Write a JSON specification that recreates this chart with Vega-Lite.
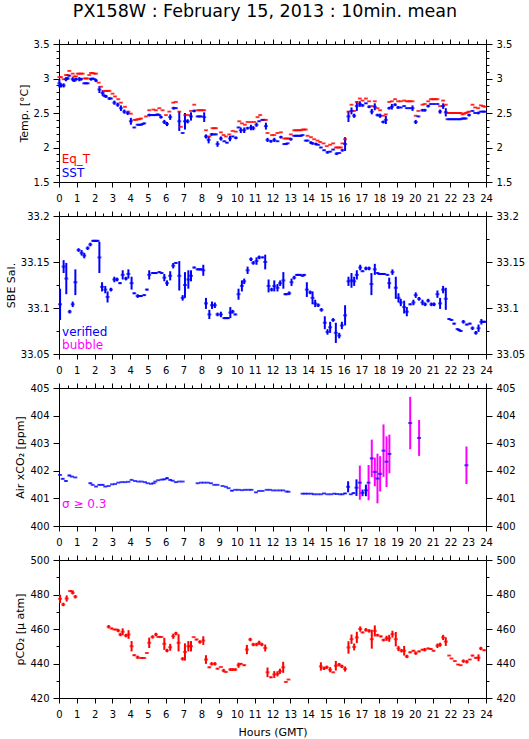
{
"$schema": "https://vega.github.io/schema/vega-lite/v6.json",
"padding": {"left": 5, "top": 3, "right": 5, "bottom": 5},
"title": {"text": "PX158W : February 15, 2013 : 10min. mean", "fontSize": 17.5, "font": "DejaVu Sans", "fontWeight": "normal", "anchor": "middle", "offset": 18, "color": "#000"},
"config": {"font": "DejaVu Sans", "view": {"stroke": null},
 "axis": {"grid": false, "domainColor": "#000", "tickColor": "#000", "labelColor": "#000", "titleColor": "#000", "labelFont": "DejaVu Sans", "titleFont": "DejaVu Sans", "labelFontSize": 10, "titleFontSize": 11, "titleFontWeight": "normal", "domainWidth": 1, "tickWidth": 1, "labelOverlap": false, "labelFlush": false, "labelBound": false},
 "tick": {"thickness": 2},
 "text": {"font": "DejaVu Sans", "fontSize": 12}},
"datasets": {
 "eq": [
  {"t":0.02,"v":3.02,"e":0.005},{"t":0.11,"v":3.02,"e":0.005},{"t":0.26,"v":2.99,"e":0.005},{"t":0.39,"v":3.05,"e":0.005},{"t":0.49,"v":3.05,"e":0.005},{"t":0.58,"v":3.11,"e":0.005},{"t":0.77,"v":3.07,"e":0.005},{"t":0.86,"v":3.03,"e":0.005},{"t":0.96,"v":3.03,"e":0.005},{"t":1.05,"v":3.07,"e":0.005},{"t":1.14,"v":3.07,"e":0.005},{"t":1.24,"v":3.07,"e":0.005},{"t":1.33,"v":3.07,"e":0.005},{"t":1.42,"v":3.0,"e":0.005},{"t":1.52,"v":3.0,"e":0.005},{"t":1.61,"v":3.0,"e":0.005},{"t":1.7,"v":3.05,"e":0.005},{"t":1.8,"v":3.08,"e":0.005},{"t":1.89,"v":3.08,"e":0.005},{"t":1.99,"v":3.07,"e":0.005},{"t":2.08,"v":3.07,"e":0.005},{"t":2.23,"v":2.94,"e":0.005},{"t":2.36,"v":2.88,"e":0.005},{"t":2.55,"v":2.82,"e":0.005},{"t":2.64,"v":2.82,"e":0.005},{"t":2.74,"v":2.82,"e":0.005},{"t":2.83,"v":2.82,"e":0.005},{"t":3.01,"v":2.78,"e":0.005},{"t":3.15,"v":2.74,"e":0.005},{"t":3.33,"v":2.7,"e":0.005},{"t":3.48,"v":2.65,"e":0.005},{"t":3.71,"v":2.59,"e":0.005},{"t":3.9,"v":2.52,"e":0.005},{"t":4.04,"v":2.49,"e":0.005},{"t":4.23,"v":2.4,"e":0.005},{"t":4.33,"v":2.4,"e":0.005},{"t":4.42,"v":2.41,"e":0.005},{"t":4.52,"v":2.41,"e":0.005},{"t":4.61,"v":2.42,"e":0.005},{"t":4.89,"v":2.45,"e":0.005},{"t":5.07,"v":2.54,"e":0.005},{"t":5.3,"v":2.55,"e":0.005},{"t":5.45,"v":2.54,"e":0.005},{"t":5.64,"v":2.57,"e":0.005},{"t":5.82,"v":2.54,"e":0.005},{"t":6.01,"v":2.47,"e":0.005},{"t":6.2,"v":2.52,"e":0.005},{"t":6.42,"v":2.65,"e":0.005},{"t":6.57,"v":2.66,"e":0.005},{"t":6.76,"v":2.52,"e":0.005},{"t":6.85,"v":2.3,"e":0.005},{"t":7.1,"v":2.47,"e":0.005},{"t":7.27,"v":2.47,"e":0.005},{"t":7.42,"v":2.53,"e":0.005},{"t":7.6,"v":2.62,"e":0.005},{"t":7.79,"v":2.54,"e":0.005},{"t":7.89,"v":2.54,"e":0.005},{"t":7.98,"v":2.54,"e":0.005},{"t":8.07,"v":2.54,"e":0.005},{"t":8.16,"v":2.54,"e":0.005},{"t":8.26,"v":2.25,"e":0.005},{"t":8.45,"v":2.16,"e":0.005},{"t":8.63,"v":2.28,"e":0.005},{"t":8.73,"v":2.28,"e":0.005},{"t":8.82,"v":2.28,"e":0.005},{"t":9.1,"v":2.22,"e":0.005},{"t":9.25,"v":2.18,"e":0.005},{"t":9.38,"v":2.16,"e":0.005},{"t":9.57,"v":2.19,"e":0.005},{"t":9.76,"v":2.24,"e":0.005},{"t":9.94,"v":2.23,"e":0.005},{"t":10.13,"v":2.38,"e":0.005},{"t":10.28,"v":2.35,"e":0.005},{"t":10.45,"v":2.33,"e":0.005},{"t":10.6,"v":2.37,"e":0.005},{"t":10.79,"v":2.37,"e":0.005},{"t":10.97,"v":2.37,"e":0.005},{"t":11.16,"v":2.44,"e":0.005},{"t":11.31,"v":2.47,"e":0.005},{"t":11.44,"v":2.4,"e":0.005},{"t":11.54,"v":2.4,"e":0.005},{"t":11.63,"v":2.4,"e":0.005},{"t":11.72,"v":2.21,"e":0.005},{"t":11.97,"v":2.18,"e":0.005},{"t":12.1,"v":2.18,"e":0.005},{"t":12.28,"v":2.21,"e":0.005},{"t":12.47,"v":2.22,"e":0.005},{"t":12.66,"v":2.13,"e":0.005},{"t":12.76,"v":2.13,"e":0.005},{"t":12.85,"v":2.13,"e":0.005},{"t":12.94,"v":2.13,"e":0.005},{"t":13.03,"v":2.19,"e":0.005},{"t":13.22,"v":2.25,"e":0.005},{"t":13.32,"v":2.25,"e":0.005},{"t":13.41,"v":2.25,"e":0.005},{"t":13.5,"v":2.25,"e":0.005},{"t":13.6,"v":2.25,"e":0.005},{"t":13.69,"v":2.26,"e":0.005},{"t":13.78,"v":2.26,"e":0.005},{"t":13.87,"v":2.26,"e":0.005},{"t":13.97,"v":2.17,"e":0.005},{"t":14.16,"v":2.15,"e":0.005},{"t":14.34,"v":2.12,"e":0.005},{"t":14.53,"v":2.1,"e":0.005},{"t":14.68,"v":2.08,"e":0.005},{"t":14.87,"v":2.06,"e":0.005},{"t":15.05,"v":2.02,"e":0.005},{"t":15.24,"v":2.04,"e":0.005},{"t":15.41,"v":2.06,"e":0.005},{"t":15.56,"v":2.0,"e":0.005},{"t":15.65,"v":2.0,"e":0.005},{"t":15.75,"v":2.0,"e":0.005},{"t":15.84,"v":2.0,"e":0.005},{"t":15.93,"v":2.06,"e":0.005},{"t":16.08,"v":2.12,"e":0.005},{"t":16.27,"v":2.52,"e":0.005},{"t":16.44,"v":2.62,"e":0.005},{"t":16.59,"v":2.53,"e":0.005},{"t":16.74,"v":2.66,"e":0.005},{"t":16.91,"v":2.71,"e":0.005},{"t":17.06,"v":2.68,"e":0.005},{"t":17.25,"v":2.71,"e":0.005},{"t":17.43,"v":2.67,"e":0.005},{"t":17.58,"v":2.6,"e":0.005},{"t":17.75,"v":2.67,"e":0.005},{"t":17.9,"v":2.57,"e":0.005},{"t":18.05,"v":2.54,"e":0.005},{"t":18.22,"v":2.46,"e":0.005},{"t":18.37,"v":2.48,"e":0.005},{"t":18.56,"v":2.66,"e":0.005},{"t":18.71,"v":2.67,"e":0.005},{"t":18.89,"v":2.7,"e":0.005},{"t":19.06,"v":2.67,"e":0.005},{"t":19.21,"v":2.67,"e":0.005},{"t":19.4,"v":2.68,"e":0.005},{"t":19.55,"v":2.67,"e":0.005},{"t":19.65,"v":2.67,"e":0.005},{"t":19.74,"v":2.67,"e":0.005},{"t":19.87,"v":2.67,"e":0.005},{"t":20.05,"v":2.46,"e":0.005},{"t":20.2,"v":2.53,"e":0.005},{"t":20.43,"v":2.62,"e":0.005},{"t":20.56,"v":2.63,"e":0.005},{"t":20.75,"v":2.67,"e":0.005},{"t":20.9,"v":2.7,"e":0.005},{"t":21.0,"v":2.7,"e":0.005},{"t":21.08,"v":2.7,"e":0.005},{"t":21.17,"v":2.7,"e":0.005},{"t":21.27,"v":2.7,"e":0.005},{"t":21.42,"v":2.6,"e":0.005},{"t":21.59,"v":2.68,"e":0.005},{"t":21.74,"v":2.62,"e":0.005},{"t":21.84,"v":2.5,"e":0.005},{"t":21.93,"v":2.5,"e":0.005},{"t":22.02,"v":2.5,"e":0.005},{"t":22.11,"v":2.5,"e":0.005},{"t":22.21,"v":2.5,"e":0.005},{"t":22.3,"v":2.5,"e":0.005},{"t":22.4,"v":2.5,"e":0.005},{"t":22.49,"v":2.5,"e":0.005},{"t":22.58,"v":2.5,"e":0.005},{"t":22.68,"v":2.48,"e":0.005},{"t":22.77,"v":2.49,"e":0.005},{"t":22.86,"v":2.5,"e":0.005},{"t":22.96,"v":2.51,"e":0.005},{"t":23.05,"v":2.52,"e":0.005},{"t":23.24,"v":2.62,"e":0.005},{"t":23.39,"v":2.58,"e":0.005},{"t":23.56,"v":2.57,"e":0.005},{"t":23.71,"v":2.61,"e":0.005},{"t":23.84,"v":2.6,"e":0.005},{"t":23.93,"v":2.59,"e":0.005}
 ],
 "sst": [
  {"t":0.02,"v":2.93,"e":0.06},{"t":0.11,"v":2.9,"e":0.03},{"t":0.26,"v":2.9,"e":0.03},{"t":0.39,"v":2.99,"e":0.03},{"t":0.49,"v":3.0,"e":0.02},{"t":0.58,"v":3.04,"e":0.01},{"t":0.77,"v":2.99,"e":0.03},{"t":0.86,"v":2.97,"e":0.02},{"t":0.96,"v":2.99,"e":0.02},{"t":1.14,"v":2.99,"e":0.03},{"t":1.24,"v":2.99,"e":0.02},{"t":1.42,"v":2.93,"e":0.01},{"t":1.52,"v":2.93,"e":0.01},{"t":1.61,"v":2.93,"e":0.01},{"t":1.8,"v":2.99,"e":0.02},{"t":1.89,"v":3.0,"e":0.01},{"t":1.99,"v":2.99,"e":0.01},{"t":2.08,"v":2.97,"e":0.02},{"t":2.27,"v":2.84,"e":0.05},{"t":2.45,"v":2.79,"e":0.04},{"t":2.55,"v":2.75,"e":0.02},{"t":2.64,"v":2.74,"e":0.02},{"t":2.83,"v":2.71,"e":0.02},{"t":2.92,"v":2.71,"e":0.01},{"t":3.11,"v":2.65,"e":0.03},{"t":3.3,"v":2.62,"e":0.03},{"t":3.48,"v":2.57,"e":0.04},{"t":3.67,"v":2.52,"e":0.03},{"t":3.86,"v":2.5,"e":0.03},{"t":4.04,"v":2.38,"e":0.05},{"t":4.23,"v":2.29,"e":0.01},{"t":4.42,"v":2.33,"e":0.01},{"t":4.51,"v":2.33,"e":0.01},{"t":4.61,"v":2.33,"e":0.01},{"t":4.7,"v":2.34,"e":0.01},{"t":4.79,"v":2.35,"e":0.01},{"t":5.07,"v":2.47,"e":0.02},{"t":5.16,"v":2.47,"e":0.01},{"t":5.26,"v":2.47,"e":0.01},{"t":5.36,"v":2.47,"e":0.01},{"t":5.45,"v":2.47,"e":0.01},{"t":5.54,"v":2.48,"e":0.01},{"t":5.64,"v":2.47,"e":0.01},{"t":5.73,"v":2.44,"e":0.02},{"t":5.92,"v":2.37,"e":0.03},{"t":6.07,"v":2.34,"e":0.03},{"t":6.25,"v":2.44,"e":0.04},{"t":6.44,"v":2.57,"e":0.02},{"t":6.57,"v":2.57,"e":0.01},{"t":6.76,"v":2.38,"e":0.14},{"t":6.95,"v":2.21,"e":0.01},{"t":7.08,"v":2.38,"e":0.12},{"t":7.23,"v":2.38,"e":0.03},{"t":7.42,"v":2.45,"e":0.06},{"t":7.6,"v":2.53,"e":0.02},{"t":7.79,"v":2.45,"e":0.01},{"t":7.89,"v":2.45,"e":0.01},{"t":7.98,"v":2.45,"e":0.01},{"t":8.16,"v":2.44,"e":0.07},{"t":8.26,"v":2.16,"e":0.03},{"t":8.41,"v":2.11,"e":0.05},{"t":8.58,"v":2.19,"e":0.02},{"t":8.7,"v":2.19,"e":0.01},{"t":8.82,"v":2.19,"e":0.01},{"t":8.91,"v":2.05,"e":0.04},{"t":9.1,"v":2.13,"e":0.03},{"t":9.29,"v":2.09,"e":0.01},{"t":9.44,"v":2.07,"e":0.01},{"t":9.61,"v":2.13,"e":0.04},{"t":9.76,"v":2.16,"e":0.01},{"t":9.94,"v":2.14,"e":0.02},{"t":10.09,"v":2.29,"e":0.01},{"t":10.22,"v":2.25,"e":0.04},{"t":10.41,"v":2.25,"e":0.04},{"t":10.6,"v":2.28,"e":0.02},{"t":10.79,"v":2.29,"e":0.04},{"t":10.92,"v":2.28,"e":0.03},{"t":11.1,"v":2.33,"e":0.03},{"t":11.25,"v":2.38,"e":0.01},{"t":11.44,"v":2.4,"e":0.01},{"t":11.63,"v":2.31,"e":0.05},{"t":11.72,"v":2.11,"e":0.03},{"t":11.91,"v":2.09,"e":0.02},{"t":12.1,"v":2.11,"e":0.03},{"t":12.28,"v":2.09,"e":0.01},{"t":12.47,"v":2.15,"e":0.02},{"t":12.66,"v":2.05,"e":0.01},{"t":12.76,"v":2.05,"e":0.01},{"t":12.85,"v":2.06,"e":0.01},{"t":13.03,"v":2.12,"e":0.02},{"t":13.22,"v":2.17,"e":0.01},{"t":13.32,"v":2.17,"e":0.01},{"t":13.41,"v":2.17,"e":0.01},{"t":13.5,"v":2.17,"e":0.01},{"t":13.6,"v":2.17,"e":0.01},{"t":13.69,"v":2.18,"e":0.01},{"t":13.87,"v":2.1,"e":0.01},{"t":13.97,"v":2.1,"e":0.01},{"t":14.16,"v":2.07,"e":0.02},{"t":14.25,"v":2.06,"e":0.02},{"t":14.44,"v":2.05,"e":0.02},{"t":14.57,"v":2.04,"e":0.01},{"t":14.72,"v":2.0,"e":0.01},{"t":14.9,"v":1.96,"e":0.01},{"t":15.09,"v":1.93,"e":0.02},{"t":15.24,"v":1.94,"e":0.01},{"t":15.41,"v":1.97,"e":0.01},{"t":15.6,"v":1.91,"e":0.02},{"t":15.75,"v":1.92,"e":0.01},{"t":15.93,"v":1.96,"e":0.02},{"t":16.08,"v":2.05,"e":0.1},{"t":16.27,"v":2.45,"e":0.08},{"t":16.44,"v":2.53,"e":0.05},{"t":16.59,"v":2.46,"e":0.03},{"t":16.74,"v":2.6,"e":0.07},{"t":16.91,"v":2.63,"e":0.04},{"t":17.06,"v":2.61,"e":0.02},{"t":17.25,"v":2.64,"e":0.01},{"t":17.43,"v":2.59,"e":0.02},{"t":17.58,"v":2.52,"e":0.04},{"t":17.75,"v":2.59,"e":0.05},{"t":17.9,"v":2.47,"e":0.02},{"t":18.05,"v":2.46,"e":0.03},{"t":18.22,"v":2.37,"e":0.02},{"t":18.37,"v":2.4,"e":0.06},{"t":18.56,"v":2.57,"e":0.02},{"t":18.71,"v":2.59,"e":0.04},{"t":18.89,"v":2.62,"e":0.02},{"t":19.06,"v":2.58,"e":0.02},{"t":19.21,"v":2.58,"e":0.01},{"t":19.4,"v":2.6,"e":0.01},{"t":19.55,"v":2.57,"e":0.01},{"t":19.72,"v":2.57,"e":0.01},{"t":19.87,"v":2.57,"e":0.04},{"t":20.05,"v":2.37,"e":0.03},{"t":20.2,"v":2.45,"e":0.01},{"t":20.43,"v":2.54,"e":0.02},{"t":20.56,"v":2.54,"e":0.02},{"t":20.75,"v":2.6,"e":0.02},{"t":20.9,"v":2.63,"e":0.01},{"t":21.08,"v":2.63,"e":0.01},{"t":21.27,"v":2.63,"e":0.01},{"t":21.42,"v":2.52,"e":0.03},{"t":21.59,"v":2.6,"e":0.04},{"t":21.74,"v":2.51,"e":0.06},{"t":21.84,"v":2.41,"e":0.005},{"t":21.93,"v":2.41,"e":0.005},{"t":22.02,"v":2.41,"e":0.005},{"t":22.11,"v":2.41,"e":0.005},{"t":22.21,"v":2.41,"e":0.005},{"t":22.3,"v":2.41,"e":0.005},{"t":22.4,"v":2.41,"e":0.005},{"t":22.49,"v":2.41,"e":0.005},{"t":22.58,"v":2.41,"e":0.005},{"t":22.68,"v":2.42,"e":0.01},{"t":22.77,"v":2.42,"e":0.01},{"t":22.86,"v":2.42,"e":0.01},{"t":23.05,"v":2.47,"e":0.02},{"t":23.24,"v":2.53,"e":0.01},{"t":23.39,"v":2.5,"e":0.01},{"t":23.56,"v":2.5,"e":0.02},{"t":23.71,"v":2.52,"e":0.01},{"t":23.84,"v":2.52,"e":0.01},{"t":23.93,"v":2.52,"e":0.01}
 ],
 "sal": [
  {"t":0.06,"v":33.104,"e":0.017},{"t":0.26,"v":33.145,"e":0.007},{"t":0.41,"v":33.132,"e":0.017},{"t":0.6,"v":33.096,"e":0.002},{"t":0.77,"v":33.104,"e":0.003},{"t":0.92,"v":33.128,"e":0.014},{"t":1.1,"v":33.163,"e":0.002},{"t":1.27,"v":33.16,"e":0.003},{"t":1.42,"v":33.157,"e":0.003},{"t":1.61,"v":33.165,"e":0.002},{"t":1.76,"v":33.169,"e":0.002},{"t":1.92,"v":33.173,"e":0.001},{"t":1.99,"v":33.173,"e":0.001},{"t":2.08,"v":33.173,"e":0.001},{"t":2.17,"v":33.173,"e":0.001},{"t":2.27,"v":33.155,"e":0.017},{"t":2.42,"v":33.123,"e":0.005},{"t":2.6,"v":33.12,"e":0.004},{"t":2.73,"v":33.112,"e":0.006},{"t":2.92,"v":33.12,"e":0.002},{"t":3.11,"v":33.131,"e":0.003},{"t":3.26,"v":33.131,"e":0.002},{"t":3.43,"v":33.127,"e":0.001},{"t":3.58,"v":33.136,"e":0.005},{"t":3.76,"v":33.132,"e":0.002},{"t":3.9,"v":33.137,"e":0.005},{"t":4.08,"v":33.127,"e":0.007},{"t":4.23,"v":33.116,"e":0.001},{"t":4.42,"v":33.113,"e":0.002},{"t":4.52,"v":33.113,"e":0.001},{"t":4.61,"v":33.113,"e":0.001},{"t":4.79,"v":33.114,"e":0.001},{"t":4.94,"v":33.12,"e":0.001},{"t":5.07,"v":33.136,"e":0.005},{"t":5.26,"v":33.138,"e":0.001},{"t":5.36,"v":33.138,"e":0.001},{"t":5.45,"v":33.138,"e":0.001},{"t":5.64,"v":33.139,"e":0.001},{"t":5.77,"v":33.138,"e":0.001},{"t":5.92,"v":33.133,"e":0.004},{"t":6.07,"v":33.127,"e":0.003},{"t":6.25,"v":33.135,"e":0.005},{"t":6.42,"v":33.146,"e":0.003},{"t":6.57,"v":33.149,"e":0.001},{"t":6.76,"v":33.135,"e":0.016},{"t":6.95,"v":33.111,"e":0.003},{"t":7.08,"v":33.125,"e":0.014},{"t":7.27,"v":33.131,"e":0.01},{"t":7.42,"v":33.135,"e":0.006},{"t":7.6,"v":33.144,"e":0.001},{"t":7.79,"v":33.142,"e":0.001},{"t":7.89,"v":33.142,"e":0.001},{"t":7.98,"v":33.142,"e":0.001},{"t":8.11,"v":33.141,"e":0.006},{"t":8.26,"v":33.105,"e":0.006},{"t":8.45,"v":33.093,"e":0.005},{"t":8.6,"v":33.103,"e":0.004},{"t":8.76,"v":33.103,"e":0.003},{"t":8.91,"v":33.093,"e":0.002},{"t":9.1,"v":33.093,"e":0.003},{"t":9.29,"v":33.089,"e":0.001},{"t":9.38,"v":33.089,"e":0.001},{"t":9.5,"v":33.089,"e":0.001},{"t":9.63,"v":33.095,"e":0.006},{"t":9.76,"v":33.096,"e":0.002},{"t":9.91,"v":33.093,"e":0.001},{"t":10.09,"v":33.115,"e":0.006},{"t":10.28,"v":33.124,"e":0.006},{"t":10.41,"v":33.129,"e":0.003},{"t":10.6,"v":33.141,"e":0.004},{"t":10.79,"v":33.153,"e":0.002},{"t":10.92,"v":33.149,"e":0.002},{"t":11.1,"v":33.151,"e":0.004},{"t":11.25,"v":33.155,"e":0.002},{"t":11.44,"v":33.155,"e":0.001},{"t":11.59,"v":33.15,"e":0.008},{"t":11.78,"v":33.124,"e":0.007},{"t":11.95,"v":33.12,"e":0.002},{"t":12.1,"v":33.124,"e":0.006},{"t":12.28,"v":33.122,"e":0.004},{"t":12.43,"v":33.127,"e":0.003},{"t":12.61,"v":33.13,"e":0.009},{"t":12.72,"v":33.115,"e":0.001},{"t":12.79,"v":33.115,"e":0.001},{"t":12.94,"v":33.116,"e":0.002},{"t":13.07,"v":33.128,"e":0.004},{"t":13.22,"v":33.133,"e":0.002},{"t":13.37,"v":33.136,"e":0.001},{"t":13.47,"v":33.136,"e":0.001},{"t":13.56,"v":33.136,"e":0.001},{"t":13.69,"v":33.135,"e":0.001},{"t":13.78,"v":33.136,"e":0.001},{"t":13.93,"v":33.12,"e":0.008},{"t":14.12,"v":33.117,"e":0.002},{"t":14.25,"v":33.111,"e":0.007},{"t":14.4,"v":33.105,"e":0.004},{"t":14.57,"v":33.103,"e":0.002},{"t":14.75,"v":33.098,"e":0.002},{"t":14.94,"v":33.084,"e":0.007},{"t":15.09,"v":33.074,"e":0.003},{"t":15.24,"v":33.079,"e":0.006},{"t":15.41,"v":33.087,"e":0.002},{"t":15.56,"v":33.073,"e":0.011},{"t":15.75,"v":33.07,"e":0.003},{"t":15.9,"v":33.081,"e":0.004},{"t":16.08,"v":33.092,"e":0.011},{"t":16.27,"v":33.129,"e":0.005},{"t":16.44,"v":33.13,"e":0.008},{"t":16.59,"v":33.129,"e":0.005},{"t":16.74,"v":33.136,"e":0.005},{"t":16.93,"v":33.144,"e":0.003},{"t":17.06,"v":33.14,"e":0.001},{"t":17.25,"v":33.143,"e":0.002},{"t":17.43,"v":33.143,"e":0.002},{"t":17.56,"v":33.126,"e":0.012},{"t":17.75,"v":33.142,"e":0.006},{"t":17.9,"v":33.138,"e":0.001},{"t":18.0,"v":33.137,"e":0.001},{"t":18.09,"v":33.137,"e":0.001},{"t":18.19,"v":33.137,"e":0.001},{"t":18.28,"v":33.137,"e":0.001},{"t":18.46,"v":33.136,"e":0.001},{"t":18.56,"v":33.127,"e":0.006},{"t":18.74,"v":33.139,"e":0.003},{"t":18.93,"v":33.122,"e":0.012},{"t":19.08,"v":33.111,"e":0.005},{"t":19.21,"v":33.106,"e":0.004},{"t":19.4,"v":33.101,"e":0.007},{"t":19.55,"v":33.096,"e":0.005},{"t":19.74,"v":33.104,"e":0.001},{"t":19.92,"v":33.106,"e":0.003},{"t":20.05,"v":33.114,"e":0.003},{"t":20.24,"v":33.11,"e":0.002},{"t":20.43,"v":33.106,"e":0.003},{"t":20.58,"v":33.104,"e":0.002},{"t":20.75,"v":33.108,"e":0.002},{"t":20.93,"v":33.104,"e":0.002},{"t":21.08,"v":33.104,"e":0.002},{"t":21.27,"v":33.115,"e":0.004},{"t":21.42,"v":33.105,"e":0.006},{"t":21.59,"v":33.12,"e":0.004},{"t":21.74,"v":33.11,"e":0.012},{"t":21.93,"v":33.088,"e":0.001},{"t":22.06,"v":33.087,"e":0.001},{"t":22.21,"v":33.083,"e":0.001},{"t":22.4,"v":33.077,"e":0.001},{"t":22.49,"v":33.076,"e":0.001},{"t":22.58,"v":33.075,"e":0.001},{"t":22.73,"v":33.085,"e":0.002},{"t":22.92,"v":33.082,"e":0.001},{"t":23.09,"v":33.083,"e":0.001},{"t":23.24,"v":33.078,"e":0.002},{"t":23.43,"v":33.073,"e":0.002},{"t":23.58,"v":33.078,"e":0.004},{"t":23.74,"v":33.085,"e":0.003},{"t":23.84,"v":33.085,"e":0.001},{"t":23.93,"v":33.085,"e":0.001}
 ],
 "co2": [
  {"t":0.06,"v":401.85,"e":0.01,"f":0},{"t":0.21,"v":401.71,"e":0.02,"f":0},{"t":0.39,"v":401.63,"e":0.02,"f":0},{"t":0.58,"v":401.83,"e":0.03,"f":0},{"t":0.73,"v":401.79,"e":0.01,"f":0},{"t":0.92,"v":401.76,"e":0.01,"f":0},{"t":1.76,"v":401.55,"e":0.02,"f":0},{"t":1.89,"v":401.49,"e":0.01,"f":0},{"t":2.08,"v":401.43,"e":0.01,"f":0},{"t":2.27,"v":401.49,"e":0.02,"f":0},{"t":2.45,"v":401.49,"e":0.02,"f":0},{"t":2.6,"v":401.43,"e":0.01,"f":0},{"t":2.79,"v":401.45,"e":0.005,"f":0},{"t":2.98,"v":401.51,"e":0.005,"f":0},{"t":3.15,"v":401.52,"e":0.005,"f":0},{"t":3.33,"v":401.57,"e":0.005,"f":0},{"t":3.52,"v":401.59,"e":0.005,"f":0},{"t":3.71,"v":401.59,"e":0.005,"f":0},{"t":3.9,"v":401.6,"e":0.005,"f":0},{"t":4.08,"v":401.67,"e":0.01,"f":0},{"t":4.27,"v":401.63,"e":0.005,"f":0},{"t":4.46,"v":401.61,"e":0.005,"f":0},{"t":4.64,"v":401.61,"e":0.005,"f":0},{"t":4.83,"v":401.59,"e":0.005,"f":0},{"t":4.98,"v":401.55,"e":0.005,"f":0},{"t":5.17,"v":401.53,"e":0.005,"f":0},{"t":5.32,"v":401.55,"e":0.005,"f":0},{"t":5.41,"v":401.61,"e":0.01,"f":0},{"t":5.58,"v":401.66,"e":0.005,"f":0},{"t":5.77,"v":401.68,"e":0.01,"f":0},{"t":5.92,"v":401.69,"e":0.02,"f":0},{"t":6.07,"v":401.73,"e":0.03,"f":0},{"t":6.25,"v":401.67,"e":0.02,"f":0},{"t":6.39,"v":401.64,"e":0.01,"f":0},{"t":6.57,"v":401.59,"e":0.01,"f":0},{"t":6.76,"v":401.61,"e":0.005,"f":0},{"t":6.95,"v":401.61,"e":0.005,"f":0},{"t":7.79,"v":401.55,"e":0.01,"f":0},{"t":7.98,"v":401.57,"e":0.005,"f":0},{"t":8.16,"v":401.57,"e":0.005,"f":0},{"t":8.35,"v":401.57,"e":0.005,"f":0},{"t":8.54,"v":401.55,"e":0.01,"f":0},{"t":8.73,"v":401.49,"e":0.005,"f":0},{"t":8.91,"v":401.49,"e":0.005,"f":0},{"t":9.19,"v":401.45,"e":0.005,"f":0},{"t":9.38,"v":401.42,"e":0.005,"f":0},{"t":9.53,"v":401.37,"e":0.005,"f":0},{"t":9.72,"v":401.28,"e":0.02,"f":0},{"t":9.91,"v":401.31,"e":0.005,"f":0},{"t":10.09,"v":401.31,"e":0.005,"f":0},{"t":10.28,"v":401.3,"e":0.005,"f":0},{"t":10.47,"v":401.31,"e":0.01,"f":0},{"t":10.66,"v":401.31,"e":0.005,"f":0},{"t":10.82,"v":401.31,"e":0.01,"f":0},{"t":11.07,"v":401.22,"e":0.01,"f":0},{"t":11.25,"v":401.27,"e":0.005,"f":0},{"t":11.44,"v":401.27,"e":0.005,"f":0},{"t":11.67,"v":401.31,"e":0.005,"f":0},{"t":11.85,"v":401.31,"e":0.005,"f":0},{"t":12.04,"v":401.29,"e":0.005,"f":0},{"t":12.23,"v":401.29,"e":0.005,"f":0},{"t":12.42,"v":401.29,"e":0.005,"f":0},{"t":12.6,"v":401.29,"e":0.005,"f":0},{"t":12.79,"v":401.25,"e":0.005,"f":0},{"t":12.9,"v":401.24,"e":0.005,"f":0},{"t":13.69,"v":401.17,"e":0.01,"f":0},{"t":13.84,"v":401.17,"e":0.01,"f":0},{"t":14.0,"v":401.17,"e":0.01,"f":0},{"t":14.19,"v":401.17,"e":0.01,"f":0},{"t":14.34,"v":401.15,"e":0.005,"f":0},{"t":14.53,"v":401.15,"e":0.005,"f":0},{"t":14.72,"v":401.15,"e":0.005,"f":0},{"t":14.9,"v":401.18,"e":0.01,"f":0},{"t":15.09,"v":401.15,"e":0.005,"f":0},{"t":15.28,"v":401.15,"e":0.005,"f":0},{"t":15.47,"v":401.17,"e":0.01,"f":0},{"t":15.62,"v":401.16,"e":0.005,"f":0},{"t":15.8,"v":401.15,"e":0.005,"f":0},{"t":15.93,"v":401.15,"e":0.005,"f":0},{"t":16.08,"v":401.18,"e":0.02,"f":0},{"t":16.25,"v":401.42,"e":0.2,"f":0},{"t":16.4,"v":401.15,"e":0.01,"f":0},{"t":16.55,"v":401.19,"e":0.03,"f":0},{"t":16.72,"v":401.39,"e":0.3,"f":0},{"t":16.91,"v":401.57,"e":0.62,"f":1},{"t":17.06,"v":401.2,"e":0.12,"f":0},{"t":17.25,"v":401.29,"e":0.21,"f":0},{"t":17.4,"v":401.57,"e":0.64,"f":1},{"t":17.58,"v":402.45,"e":0.68,"f":1},{"t":17.75,"v":401.96,"e":0.52,"f":1},{"t":17.9,"v":401.72,"e":0.9,"f":1},{"t":18.05,"v":401.89,"e":0.64,"f":1},{"t":18.24,"v":402.73,"e":0.95,"f":1},{"t":18.41,"v":402.33,"e":0.92,"f":1},{"t":18.57,"v":402.61,"e":0.7,"f":1},{"t":19.74,"v":403.73,"e":0.95,"f":1},{"t":20.24,"v":403.19,"e":0.65,"f":1},{"t":22.9,"v":402.2,"e":0.68,"f":1}
 ],
 "pco2": [
  {"t":0.06,"v":477.5,"e":2.4},{"t":0.24,"v":474.2,"e":1},{"t":0.43,"v":477.7,"e":1.8},{"t":0.62,"v":482.0,"e":0.2},{"t":0.71,"v":482.0,"e":0.2},{"t":0.77,"v":481.0,"e":1},{"t":0.92,"v":478.7,"e":1},{"t":2.79,"v":461.3,"e":1},{"t":2.96,"v":460.3,"e":0.5},{"t":3.11,"v":459.7,"e":0.2},{"t":3.2,"v":459.7,"e":0.2},{"t":3.33,"v":459.1,"e":1},{"t":3.45,"v":456.8,"e":1},{"t":3.58,"v":458.4,"e":2},{"t":3.76,"v":456.2,"e":1},{"t":3.91,"v":456.8,"e":2.5},{"t":4.08,"v":450.0,"e":3},{"t":4.23,"v":444.8,"e":0.5},{"t":4.42,"v":443.6,"e":1},{"t":4.61,"v":443.2,"e":0.2},{"t":4.7,"v":443.2,"e":0.2},{"t":4.79,"v":443.2,"e":0.2},{"t":4.94,"v":446.1,"e":0.3},{"t":5.07,"v":452.0,"e":3},{"t":5.26,"v":455.4,"e":1},{"t":5.45,"v":456.8,"e":1},{"t":5.58,"v":455.4,"e":0.2},{"t":5.67,"v":455.4,"e":0.2},{"t":5.76,"v":455.4,"e":0.2},{"t":5.92,"v":451.4,"e":3.5},{"t":6.07,"v":447.5,"e":1},{"t":6.25,"v":449.4,"e":2},{"t":6.42,"v":455.8,"e":1.5},{"t":6.57,"v":457.4,"e":1},{"t":6.72,"v":452.0,"e":5},{"t":6.95,"v":442.7,"e":1},{"t":7.08,"v":446.7,"e":5},{"t":7.27,"v":450.0,"e":3},{"t":7.42,"v":450.0,"e":3},{"t":7.57,"v":455.3,"e":0.2},{"t":7.73,"v":453.9,"e":0.5},{"t":7.92,"v":452.5,"e":1},{"t":8.11,"v":453.3,"e":2.5},{"t":8.26,"v":442.3,"e":2.5},{"t":8.45,"v":437.8,"e":0.5},{"t":8.58,"v":439.8,"e":1},{"t":8.76,"v":439.8,"e":1},{"t":8.91,"v":437.0,"e":0.5},{"t":9.1,"v":438.0,"e":0.2},{"t":9.25,"v":435.9,"e":1},{"t":9.38,"v":435.1,"e":0.3},{"t":9.63,"v":436.5,"e":0.8},{"t":9.76,"v":436.5,"e":0.8},{"t":9.91,"v":436.5,"e":0.8},{"t":10.09,"v":439.0,"e":1.5},{"t":10.22,"v":439.8,"e":0.5},{"t":10.41,"v":439.0,"e":0.5},{"t":10.56,"v":448.1,"e":2.7},{"t":10.75,"v":453.9,"e":1},{"t":10.92,"v":451.0,"e":1},{"t":11.1,"v":451.0,"e":1},{"t":11.25,"v":452.0,"e":1.2},{"t":11.4,"v":451.0,"e":1},{"t":11.59,"v":449.0,"e":2},{"t":11.72,"v":434.9,"e":2.8},{"t":11.91,"v":432.0,"e":0.5},{"t":12.1,"v":433.6,"e":2},{"t":12.28,"v":434.0,"e":1.5},{"t":12.42,"v":435.5,"e":1.5},{"t":12.6,"v":437.8,"e":3.2},{"t":12.75,"v":429.3,"e":0.3},{"t":12.9,"v":430.7,"e":0.2},{"t":14.72,"v":438.3,"e":2.4},{"t":14.9,"v":437.2,"e":1},{"t":15.05,"v":437.8,"e":1},{"t":15.24,"v":436.4,"e":1.5},{"t":15.41,"v":434.9,"e":0.3},{"t":15.56,"v":438.7,"e":2.8},{"t":15.75,"v":439.3,"e":1},{"t":15.9,"v":438.3,"e":1},{"t":16.08,"v":436.8,"e":1.5},{"t":16.27,"v":449.3,"e":3.6},{"t":16.44,"v":454.1,"e":2.7},{"t":16.59,"v":449.6,"e":2},{"t":16.74,"v":455.1,"e":3.3},{"t":16.93,"v":460.0,"e":1.5},{"t":17.06,"v":458.0,"e":0.5},{"t":17.25,"v":459.5,"e":1},{"t":17.43,"v":458.9,"e":1},{"t":17.58,"v":454.1,"e":5.5},{"t":17.75,"v":458.9,"e":3.2},{"t":17.9,"v":456.4,"e":0.8},{"t":18.09,"v":455.7,"e":0.5},{"t":18.24,"v":453.6,"e":0.8},{"t":18.41,"v":454.6,"e":1.5},{"t":18.56,"v":454.6,"e":2},{"t":18.74,"v":457.0,"e":2},{"t":18.93,"v":454.1,"e":4.2},{"t":19.08,"v":448.7,"e":1.5},{"t":19.25,"v":447.4,"e":1},{"t":19.4,"v":447.4,"e":2.8},{"t":19.55,"v":444.1,"e":1},{"t":19.74,"v":446.5,"e":0.5},{"t":19.92,"v":447.4,"e":0.5},{"t":20.05,"v":446.0,"e":1},{"t":20.24,"v":447.0,"e":0.5},{"t":20.43,"v":448.0,"e":0.5},{"t":20.56,"v":448.0,"e":1},{"t":20.75,"v":448.7,"e":0.5},{"t":20.9,"v":448.4,"e":0.5},{"t":21.05,"v":447.4,"e":0.5},{"t":21.27,"v":450.3,"e":1.3},{"t":21.42,"v":450.9,"e":1.2},{"t":21.59,"v":455.1,"e":1.5},{"t":21.74,"v":452.7,"e":2.5},{"t":21.93,"v":444.6,"e":0.2},{"t":22.06,"v":442.9,"e":0.3},{"t":22.25,"v":441.4,"e":0.3},{"t":22.43,"v":439.4,"e":0.3},{"t":22.58,"v":439.0,"e":0.3},{"t":22.73,"v":441.4,"e":1},{"t":22.92,"v":441.0,"e":1},{"t":23.09,"v":442.3,"e":0.3},{"t":23.24,"v":444.6,"e":0.5},{"t":23.43,"v":443.3,"e":0.5},{"t":23.58,"v":443.3,"e":2},{"t":23.71,"v":448.7,"e":1},{"t":23.9,"v":447.7,"e":0.5}
 ]
},
"vconcat": [
 {"width": 427, "height": 138,
  "resolve": {"axis": {"x": "independent", "y": "independent"}},
  "layer": [
   {"data": {"name": "eq"}, "mark": {"type": "errorbar", "ticks": false, "thickness": 2},
    "encoding": {"x": {"field": "t", "type": "quantitative", "scale": {"domain": [0, 24], "nice": false, "zero": false}, "axis": null},
     "y": {"field": "v", "type": "quantitative", "scale": {"domain": [1.5, 3.5], "nice": false, "zero": false}, "axis": null},
     "yError": {"field": "e"}, "color": {"value": "#ff0000"}}},
   {"data": {"name": "sst"}, "mark": {"type": "errorbar", "ticks": false, "thickness": 2},
    "encoding": {"x": {"field": "t", "type": "quantitative", "scale": {"domain": [0, 24], "nice": false, "zero": false}, "axis": null},
     "y": {"field": "v", "type": "quantitative", "scale": {"domain": [1.5, 3.5], "nice": false, "zero": false}, "axis": null},
     "yError": {"field": "e"}, "color": {"value": "#0000ff"}}},
   {"data": {"name": "eq"}, "mark": {"type": "tick", "orient": "horizontal", "size": 4, "thickness": 2, "color": "#ff0000"},
    "encoding": {"x": {"field": "t", "type": "quantitative", "scale": {"domain": [0, 24], "nice": false, "zero": false},
      "axis": {"orient": "bottom", "values": [0,0.5,1,1.5,2,2.5,3,3.5,4,4.5,5,5.5,6,6.5,7,7.5,8,8.5,9,9.5,10,10.5,11,11.5,12,12.5,13,13.5,14,14.5,15,15.5,16,16.5,17,17.5,18,18.5,19,19.5,20,20.5,21,21.5,22,22.5,23,23.5,24], "format": "d", "labelExpr": "datum.value % 1 == 0 ? datum.label : ''", "tickSize": {"condition": {"test": "datum.value % 1 == 0", "value": 5}, "value": 3}, "labelPadding": 6, "title": null}},
     "y": {"field": "v", "type": "quantitative", "scale": {"domain": [1.5, 3.5], "nice": false, "zero": false},
      "axis": {"orient": "left", "values": [1.5,1.6,1.7,1.8,1.9,2,2.1,2.2,2.3,2.4,2.5,2.6,2.7,2.8,2.9,3,3.1,3.2,3.3,3.4,3.5], "format": "~g", "labelExpr": "abs(datum.value*2-round(datum.value*2))<0.001 ? datum.label : ''", "tickSize": {"condition": {"test": "abs(datum.value*2-round(datum.value*2))<0.001", "value": 6}, "value": 3}, "labelPadding": 4, "title": "Temp. [°C]", "titlePadding": 4}}}},
   {"data": {"name": "sst"}, "mark": {"type": "tick", "orient": "horizontal", "size": 4, "thickness": 2, "color": "#0000ff"},
    "encoding": {"x": {"field": "t", "type": "quantitative", "scale": {"domain": [0, 24], "nice": false, "zero": false},
      "axis": {"orient": "top", "values": [0,0.5,1,1.5,2,2.5,3,3.5,4,4.5,5,5.5,6,6.5,7,7.5,8,8.5,9,9.5,10,10.5,11,11.5,12,12.5,13,13.5,14,14.5,15,15.5,16,16.5,17,17.5,18,18.5,19,19.5,20,20.5,21,21.5,22,22.5,23,23.5,24], "labels": false, "tickSize": {"condition": {"test": "datum.value % 1 == 0", "value": 5}, "value": 3}, "title": null}},
     "y": {"field": "v", "type": "quantitative", "scale": {"domain": [1.5, 3.5], "nice": false, "zero": false},
      "axis": {"orient": "right", "values": [1.5,1.6,1.7,1.8,1.9,2,2.1,2.2,2.3,2.4,2.5,2.6,2.7,2.8,2.9,3,3.1,3.2,3.3,3.4,3.5], "format": "~g", "labelExpr": "abs(datum.value*2-round(datum.value*2))<0.001 ? datum.label : ''", "tickSize": {"condition": {"test": "abs(datum.value*2-round(datum.value*2))<0.001", "value": 6}, "value": 3}, "labelPadding": 4, "title": null}}}},
   {"data": {"values": [{}]}, "mark": {"type": "text", "text": "Eq_T", "align": "left", "baseline": "middle", "color": "#ff0000"},
    "encoding": {"x": {"datum": 0.15, "type": "quantitative", "scale": {"domain": [0, 24], "nice": false, "zero": false}, "axis": null},
     "y": {"datum": 1.84, "type": "quantitative", "scale": {"domain": [1.5, 3.5], "nice": false, "zero": false}, "axis": null}}},
   {"data": {"values": [{}]}, "mark": {"type": "text", "text": "SST", "align": "left", "baseline": "middle", "color": "#0000ff"},
    "encoding": {"x": {"datum": 0.15, "type": "quantitative", "scale": {"domain": [0, 24], "nice": false, "zero": false}, "axis": null},
     "y": {"datum": 1.63, "type": "quantitative", "scale": {"domain": [1.5, 3.5], "nice": false, "zero": false}, "axis": null}}}
  ]},
 {"width": 427, "height": 138,
  "resolve": {"axis": {"x": "independent", "y": "independent"}},
  "layer": [
   {"data": {"name": "sal"}, "mark": {"type": "errorbar", "ticks": false, "thickness": 2},
    "encoding": {"x": {"field": "t", "type": "quantitative", "scale": {"domain": [0, 24], "nice": false, "zero": false}, "axis": null},
     "y": {"field": "v", "type": "quantitative", "scale": {"domain": [33.05, 33.2], "nice": false, "zero": false}, "axis": null},
     "yError": {"field": "e"}, "color": {"value": "#0000ff"}}},
   {"data": {"name": "sal"}, "mark": {"type": "tick", "orient": "horizontal", "size": 4, "thickness": 2, "color": "#0000ff"},
    "encoding": {"x": {"field": "t", "type": "quantitative", "scale": {"domain": [0, 24], "nice": false, "zero": false},
      "axis": {"orient": "bottom", "values": [0,0.5,1,1.5,2,2.5,3,3.5,4,4.5,5,5.5,6,6.5,7,7.5,8,8.5,9,9.5,10,10.5,11,11.5,12,12.5,13,13.5,14,14.5,15,15.5,16,16.5,17,17.5,18,18.5,19,19.5,20,20.5,21,21.5,22,22.5,23,23.5,24], "format": "d", "labelExpr": "datum.value % 1 == 0 ? datum.label : ''", "tickSize": {"condition": {"test": "datum.value % 1 == 0", "value": 5}, "value": 3}, "labelPadding": 6, "title": null}},
     "y": {"field": "v", "type": "quantitative", "scale": {"domain": [33.05, 33.2], "nice": false, "zero": false},
      "axis": {"orient": "left", "values": [33.05,33.075,33.1,33.125,33.15,33.175,33.2], "format": "~g", "labelExpr": "abs(datum.value*20-round(datum.value*20))<0.001 ? datum.label : ''", "tickSize": {"condition": {"test": "abs(datum.value*20-round(datum.value*20))<0.001", "value": 6}, "value": 3}, "labelPadding": 4, "title": "SBE Sal.", "titlePadding": 4}}}},
   {"data": {"values": [{}]}, "mark": {"type": "text", "text": "verified", "align": "left", "baseline": "middle", "color": "#0000ff"},
    "encoding": {"x": {"datum": 0.17, "type": "quantitative", "scale": {"domain": [0, 24], "nice": false, "zero": false},
      "axis": {"orient": "top", "values": [0,0.5,1,1.5,2,2.5,3,3.5,4,4.5,5,5.5,6,6.5,7,7.5,8,8.5,9,9.5,10,10.5,11,11.5,12,12.5,13,13.5,14,14.5,15,15.5,16,16.5,17,17.5,18,18.5,19,19.5,20,20.5,21,21.5,22,22.5,23,23.5,24], "labels": false, "tickSize": {"condition": {"test": "datum.value % 1 == 0", "value": 5}, "value": 3}, "title": null}},
     "y": {"datum": 33.0744, "type": "quantitative", "scale": {"domain": [33.05, 33.2], "nice": false, "zero": false},
      "axis": {"orient": "right", "values": [33.05,33.075,33.1,33.125,33.15,33.175,33.2], "format": "~g", "labelExpr": "abs(datum.value*20-round(datum.value*20))<0.001 ? datum.label : ''", "tickSize": {"condition": {"test": "abs(datum.value*20-round(datum.value*20))<0.001", "value": 6}, "value": 3}, "labelPadding": 4, "title": null}}}},
   {"data": {"values": [{}]}, "mark": {"type": "text", "text": "bubble", "align": "left", "baseline": "middle", "color": "#ff00ff"},
    "encoding": {"x": {"datum": 0.17, "type": "quantitative", "scale": {"domain": [0, 24], "nice": false, "zero": false}, "axis": null},
     "y": {"datum": 33.0599, "type": "quantitative", "scale": {"domain": [33.05, 33.2], "nice": false, "zero": false}, "axis": null}}}
  ]},
 {"width": 427, "height": 138,
  "resolve": {"axis": {"x": "independent", "y": "independent"}},
  "layer": [
   {"data": {"name": "co2"}, "transform": [{"filter": "datum.f == 0"}], "mark": {"type": "errorbar", "ticks": false, "thickness": 2},
    "encoding": {"x": {"field": "t", "type": "quantitative", "scale": {"domain": [0, 24], "nice": false, "zero": false}, "axis": null},
     "y": {"field": "v", "type": "quantitative", "scale": {"domain": [400, 405], "nice": false, "zero": false}, "axis": null},
     "yError": {"field": "e"}, "color": {"value": "#0000ff"}}},
   {"data": {"name": "co2"}, "transform": [{"filter": "datum.f == 1"}], "mark": {"type": "errorbar", "ticks": false, "thickness": 2},
    "encoding": {"x": {"field": "t", "type": "quantitative", "scale": {"domain": [0, 24], "nice": false, "zero": false}, "axis": null},
     "y": {"field": "v", "type": "quantitative", "scale": {"domain": [400, 405], "nice": false, "zero": false}, "axis": null},
     "yError": {"field": "e"}, "color": {"value": "#ff00ff"}}},
   {"data": {"name": "co2"}, "mark": {"type": "tick", "orient": "horizontal", "size": 4, "thickness": 2, "color": "#0000ff"},
    "encoding": {"x": {"field": "t", "type": "quantitative", "scale": {"domain": [0, 24], "nice": false, "zero": false},
      "axis": {"orient": "bottom", "values": [0,0.5,1,1.5,2,2.5,3,3.5,4,4.5,5,5.5,6,6.5,7,7.5,8,8.5,9,9.5,10,10.5,11,11.5,12,12.5,13,13.5,14,14.5,15,15.5,16,16.5,17,17.5,18,18.5,19,19.5,20,20.5,21,21.5,22,22.5,23,23.5,24], "format": "d", "labelExpr": "datum.value % 1 == 0 ? datum.label : ''", "tickSize": {"condition": {"test": "datum.value % 1 == 0", "value": 5}, "value": 3}, "labelPadding": 6, "title": null}},
     "y": {"field": "v", "type": "quantitative", "scale": {"domain": [400, 405], "nice": false, "zero": false},
      "axis": {"orient": "left", "values": [400,400.5,401,401.5,402,402.5,403,403.5,404,404.5,405], "format": "d", "labelExpr": "datum.value % 1 == 0 ? datum.label : ''", "tickSize": {"condition": {"test": "datum.value % 1 == 0", "value": 6}, "value": 3}, "labelPadding": 4, "title": "Air xCO₂ [ppm]", "titlePadding": 4}}}},
   {"data": {"values": [{}]}, "mark": {"type": "text", "text": "σ ≥ 0.3", "align": "left", "baseline": "middle", "color": "#ff00ff"},
    "encoding": {"x": {"datum": 0.17, "type": "quantitative", "scale": {"domain": [0, 24], "nice": false, "zero": false},
      "axis": {"orient": "top", "values": [0,0.5,1,1.5,2,2.5,3,3.5,4,4.5,5,5.5,6,6.5,7,7.5,8,8.5,9,9.5,10,10.5,11,11.5,12,12.5,13,13.5,14,14.5,15,15.5,16,16.5,17,17.5,18,18.5,19,19.5,20,20.5,21,21.5,22,22.5,23,23.5,24], "labels": false, "tickSize": {"condition": {"test": "datum.value % 1 == 0", "value": 5}, "value": 3}, "title": null}},
     "y": {"datum": 400.8, "type": "quantitative", "scale": {"domain": [400, 405], "nice": false, "zero": false},
      "axis": {"orient": "right", "values": [400,400.5,401,401.5,402,402.5,403,403.5,404,404.5,405], "format": "d", "labelExpr": "datum.value % 1 == 0 ? datum.label : ''", "tickSize": {"condition": {"test": "datum.value % 1 == 0", "value": 6}, "value": 3}, "labelPadding": 4, "title": null}}}}
  ]},
 {"width": 427, "height": 138,
  "resolve": {"axis": {"x": "independent", "y": "independent"}},
  "layer": [
   {"data": {"name": "pco2"}, "mark": {"type": "errorbar", "ticks": false, "thickness": 2},
    "encoding": {"x": {"field": "t", "type": "quantitative", "scale": {"domain": [0, 24], "nice": false, "zero": false},
      "axis": {"orient": "top", "values": [0,0.5,1,1.5,2,2.5,3,3.5,4,4.5,5,5.5,6,6.5,7,7.5,8,8.5,9,9.5,10,10.5,11,11.5,12,12.5,13,13.5,14,14.5,15,15.5,16,16.5,17,17.5,18,18.5,19,19.5,20,20.5,21,21.5,22,22.5,23,23.5,24], "labels": false, "tickSize": {"condition": {"test": "datum.value % 1 == 0", "value": 5}, "value": 3}, "title": null}},
     "y": {"field": "v", "type": "quantitative", "scale": {"domain": [420, 500], "nice": false, "zero": false},
      "axis": {"orient": "right", "values": [420,430,440,450,460,470,480,490,500], "format": "d", "labelExpr": "datum.value % 20 == 0 ? datum.label : ''", "tickSize": {"condition": {"test": "datum.value % 20 == 0", "value": 6}, "value": 3}, "labelPadding": 4, "title": null}},
     "yError": {"field": "e"}, "color": {"value": "#ff0000"}}},
   {"data": {"name": "pco2"}, "mark": {"type": "tick", "orient": "horizontal", "size": 4, "thickness": 2, "color": "#ff0000"},
    "encoding": {"x": {"field": "t", "type": "quantitative", "scale": {"domain": [0, 24], "nice": false, "zero": false},
      "axis": {"orient": "bottom", "values": [0,0.5,1,1.5,2,2.5,3,3.5,4,4.5,5,5.5,6,6.5,7,7.5,8,8.5,9,9.5,10,10.5,11,11.5,12,12.5,13,13.5,14,14.5,15,15.5,16,16.5,17,17.5,18,18.5,19,19.5,20,20.5,21,21.5,22,22.5,23,23.5,24], "format": "d", "labelExpr": "datum.value % 1 == 0 ? datum.label : ''", "tickSize": {"condition": {"test": "datum.value % 1 == 0", "value": 5}, "value": 3}, "labelPadding": 6, "title": "Hours (GMT)", "titlePadding": 7}},
     "y": {"field": "v", "type": "quantitative", "scale": {"domain": [420, 500], "nice": false, "zero": false},
      "axis": {"orient": "left", "values": [420,430,440,450,460,470,480,490,500], "format": "d", "labelExpr": "datum.value % 20 == 0 ? datum.label : ''", "tickSize": {"condition": {"test": "datum.value % 20 == 0", "value": 6}, "value": 3}, "labelPadding": 4, "title": "pCO₂ [μ atm]", "titlePadding": 4}}}}
  ]}
],
"spacing": 34,
"bounds": "flush"
}
